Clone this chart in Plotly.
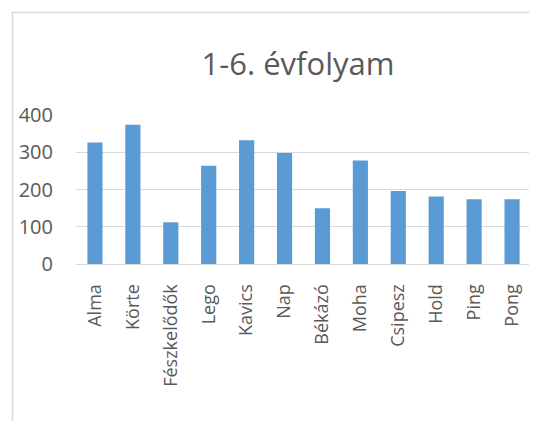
import plotly.graph_objects as go

categories = ["Alma", "Körte", "Fészkelődők", "Lego", "Kavics", "Nap", "Békázó",
              "Moha", "Csipesz", "Hold", "Ping", "Pong"]
values = [326, 374, 112, 264, 332, 298, 150, 278, 196, 181, 174, 174]
y_ticks = [0, 100, 200, 300, 400]
title_text = "1-6. évfolyam"

FONT = "Open Sans"
GRAY = "#595959"
OFF = 8  # page body margin

L, R, T, B = 76 - OFF, 531 - OFF, 115 - OFF, 264 - OFF
W, H = 537, 421
PW, PH = R - L, B - T

fig = go.Figure(go.Bar(x=categories, y=values, marker_color="#5B9BD5",
                       marker_line_width=0, width=0.4))

fig.update_layout(
    width=W, height=H,
    margin=dict(l=L, r=W - R, t=T, b=H - B),
    paper_bgcolor="white", plot_bgcolor="white",
    showlegend=False,
    title=dict(text=title_text, x=(298 - OFF) / W, xref="container", xanchor="center",
               y=1 - (64 - OFF) / H, yref="container", yanchor="middle",
               font=dict(family=FONT, size=31, color=GRAY)),
    xaxis=dict(tickangle=-90, tickfont=dict(family=FONT, size=18, color=GRAY),
               showline=True, linecolor="#D9D9D9", linewidth=1, ticks="",
               ticklabelstandoff=12, fixedrange=True),
    yaxis=dict(range=[0, 400], tickvals=y_ticks,
               tickfont=dict(family=FONT, size=20, color=GRAY),
               showgrid=True, gridcolor="#D9D9D9", gridwidth=1,
               zeroline=False, showline=False, ticks="",
               ticklabelstandoff=22),
    shapes=[dict(type="rect", xref="paper", yref="paper",
                 x0=(12.5 - 76) / PW, x1=1.3, y0=-1.5, y1=1 + (115 - 12.5) / PH,
                 line=dict(color="#D9D9D9", width=1.5), fillcolor="rgba(0,0,0,0)",
                 layer="below")],
)

fig.write_html("out.html")
